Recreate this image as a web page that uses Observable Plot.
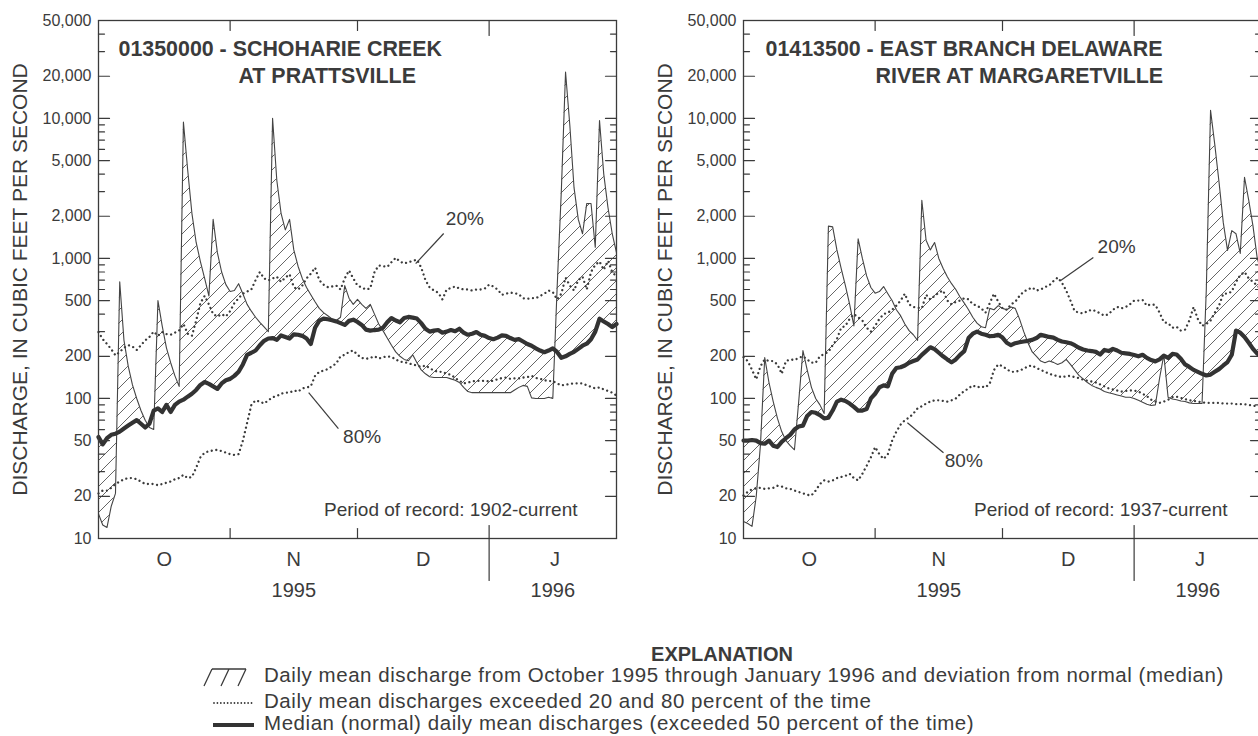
<!DOCTYPE html>
<html><head><meta charset="utf-8">
<script src="https://cdn.jsdelivr.net/npm/d3@7"></script>
<script src="https://cdn.jsdelivr.net/npm/@observablehq/plot@0.6"></script>
<style>
html,body{margin:0;padding:0;background:#fff;overflow:hidden;}
#wrap{position:relative;width:1258px;height:736px;overflow:hidden;font-family:"Liberation Sans",Arial,Helvetica,sans-serif;color:#3b3b3b;}
.panel{position:absolute;top:0;width:640px;height:620px;}
.panel svg{max-width:none !important;}
.lg{position:absolute;white-space:nowrap;font-size:20.5px;line-height:1;letter-spacing:0.55px;}
.sym{position:absolute;}
</style></head><body>
<div id="wrap">
  <div id="p1" class="panel" style="left:0px"></div>
  <div id="p2" class="panel" style="left:645px"></div>
  <div class="lg" style="left:602px;width:240px;text-align:center;top:644px;font-weight:bold;font-size:20px;letter-spacing:0;">EXPLANATION</div>
  <svg class="sym" style="left:200px;top:666px" width="60" height="22"><path d="M12,3 H46 M4,20 L12,3 M21,20 L29,3 M38,20 L46,3" stroke="#3b3b3b" stroke-width="1.3" fill="none"/></svg>
  <div class="lg" style="left:264px;top:665px;">Daily mean discharge from October 1995 through January 1996 and deviation from normal (median)</div>
  <svg class="sym" style="left:210px;top:697px" width="50" height="12"><line x1="4" y1="6" x2="44" y2="6" stroke="#3b3b3b" stroke-width="1.8" stroke-dasharray="0.01 3.4" stroke-linecap="round"/></svg>
  <div class="lg" style="left:264px;top:691px;">Daily mean discharges exceeded 20 and 80 percent of the time</div>
  <svg class="sym" style="left:210px;top:719px" width="50" height="12"><line x1="3" y1="6" x2="44" y2="6" stroke="#333" stroke-width="4.2"/></svg>
  <div class="lg" style="left:264px;top:713px;">Median (normal) daily mean discharges (exceeded 50 percent of the time)</div>
</div>
<script>
const FONT = '"Liberation Sans", Arial, Helvetica, sans-serif';
const INK = "#3b3b3b";

// ---- time axis (daily, 1 Oct 1995 .. 31 Jan 1996) ----
const startDate = new Date(Date.UTC(1995, 9, 1));
const dayDates = d3.range(123).map(i => d3.utcDay.offset(startDate, i));
const monthLetters = ["O", "N", "D", "J"];
const monthLabelDates = ["1995-10-16T12:00Z", "1995-11-16T00:00Z", "1995-12-16T12:00Z", "1996-01-16T12:00Z"].map(s => new Date(s));
const monthBoundaryDates = ["1995-11-01", "1995-12-01"].map(s => new Date(s));
const yearBoundaryDates = ["1996-01-01"].map(s => new Date(s));
const yearLabels = ["1995", "1996"];
const yearLabelDates = ["1995-11-16T00:00Z", "1996-01-16T00:00Z"].map(s => new Date(s));

// ---- discharge axis ----
const yMajorTicks = [10, 20, 50, 100, 200, 500, 1000, 2000, 5000, 10000, 20000, 50000];
const yAllTicks = [1, 10, 100, 1000, 10000].flatMap(p => [1,2,3,4,5,6,7,8,9].map(m => m * p)).filter(v => v >= 10 && v <= 50000);
const yMinorTicks = yAllTicks.filter(v => !yMajorTicks.includes(v));
const yTitle = "DISCHARGE, IN CUBIC FEET PER SECOND";

// ---- 01350000 Schoharie Creek at Prattsville ----
const schoharieTitle = ["01350000 - SCHOHARIE CREEK", "AT PRATTSVILLE"];
const schoharieRecord = "Period of record: 1902-current";
const schoharieQ = [
  15, 12.5, 12, 17, 21, 680, 260, 170, 125, 100,
  82, 70, 62, 60, 500, 330, 230, 180, 145, 122,
  9400, 4300, 2100, 1300, 950, 720, 540, 1900, 1100, 800,
  650, 580, 590, 660, 560, 470, 420, 380, 350, 325,
  300, 10000, 3600, 2100, 1600, 1900, 1150, 880, 720, 620,
  550, 490, 440, 410, 390, 370, 360, 380, 640, 520,
  470, 510, 470, 440, 470, 400, 340, 305, 270, 240,
  215, 200, 190, 186, 205, 180, 160, 150, 143, 141,
  141, 141, 141, 138, 135, 130, 120, 112, 110, 110,
  110, 110, 110, 110, 110, 110, 110, 110, 115, 120,
  124, 122, 101, 100, 100, 100, 102, 100, 600, 3000,
  21400, 9000, 3200, 1900, 1500, 2470, 2470, 1200, 9660, 4000,
  2300, 1500, 1100];
const schoharieMedian = [
  53, 47, 52, 55, 56, 58, 61, 64, 67, 70,
  66, 62, 66, 82, 85, 80, 90, 80, 90, 95,
  98, 103, 108, 115, 125, 131, 127, 122, 117, 128,
  135, 138, 145, 155, 175, 205, 212, 220, 240, 258,
  268, 270, 262, 282, 275, 268, 287, 285, 280, 268,
  245, 320, 360, 372, 368, 362, 355, 345, 335, 358,
  365, 352, 335, 310, 305, 308, 310, 320, 350, 375,
  360, 350, 375, 382, 378, 372, 345, 315, 300, 305,
  308, 295, 300, 308, 302, 315, 295, 285, 290, 298,
  285, 280, 270, 265, 272, 282, 280, 270, 262, 265,
  255, 245, 238, 228, 220, 214, 220, 228, 215, 195,
  200, 208, 215, 226, 238, 246, 265, 300, 371, 355,
  340, 323, 340];
const schoharieP20 = [
  298, 265, 245, 225, 203, 215, 230, 240, 235, 222,
  240, 260, 275, 300, 280, 298, 288, 285, 295, 306,
  340, 290, 280, 360, 480, 540, 470, 400, 385, 400,
  385, 420, 480, 520, 560, 580, 600, 700, 800, 720,
  697, 720, 740, 680, 730, 770, 624, 600, 640, 720,
  778, 860, 700, 650, 624, 630, 640, 600, 720, 820,
  720, 640, 620, 600, 610, 800, 890, 880, 870, 940,
  1010, 950, 920, 940, 960, 980, 860, 700, 620, 590,
  570, 510, 600, 615, 630, 610, 600, 600, 590, 600,
  600, 610, 650, 630, 600, 550, 560, 570, 565, 555,
  520, 515, 520, 520, 540, 560, 590, 575, 510, 560,
  730, 640, 590, 700, 740, 600, 800, 900, 950, 830,
  960, 800, 740];
const schoharieP80 = [
  21, 22, 22, 23, 24.5, 25.5, 26.5, 27, 27, 26.5,
  25.5, 24.5, 24.5, 24.5, 24, 24.5, 25, 25.5, 26.5, 27,
  28.5, 27, 27.5, 32, 38, 41, 42, 42.5, 43, 42,
  41, 40, 39.5, 40, 50, 67, 90, 97, 95, 92,
  97, 102, 104, 108, 110, 110, 114, 112, 118, 120,
  122, 145, 155, 158, 162, 170, 178, 200, 205, 215,
  220, 205, 195, 192, 195, 200, 193, 197, 200, 198,
  190, 183, 182, 178, 175, 172, 168, 172, 165, 158,
  155, 155, 150, 148, 140, 134, 128, 130, 132, 134,
  133, 134, 132, 134, 137, 140, 141, 138, 139, 139,
  141, 142, 145, 140, 138, 135, 133, 133, 128, 124,
  125, 127, 128, 128, 128, 124, 121, 118, 120, 116,
  113, 110, 105];
// annotation anchors: [day index, discharge]
const schoharieLeader20 = [[74.7, 918], [81.3, 1506]];
const schoharieLabel20 = [81.8, 1900];
const schoharieLeader80 = [[49.5, 110], [56.5, 61]];
const schoharieLabel80 = [57.6, 53.5];

// ---- 01413500 East Branch Delaware River at Margaretville ----
const delawareTitle = ["01413500 - EAST BRANCH DELAWARE", "RIVER AT MARGARETVILLE"];
const delawareRecord = "Period of record: 1937-current";
const delawareQ = [
  13.2, 12.8, 12.2, 20, 47, 196, 130, 95, 72, 58,
  50, 46, 43, 95, 220, 160, 120, 100, 90, 78,
  1700, 1680, 1150, 850, 640, 470, 330, 1380, 1000, 750,
  620, 565, 580, 630, 560, 500, 430, 390, 340, 305,
  285, 260, 2600, 1350, 1150, 1300, 1000, 850, 740, 660,
  600, 530, 480, 430, 380, 345, 325, 320, 440, 430,
  460, 440, 430, 450, 440, 370, 300, 250, 215, 200,
  185, 180, 185, 181, 175, 180, 190, 175, 160, 146,
  138, 130, 124, 120, 117, 112, 110, 108, 106, 104,
  102, 102, 100, 97, 94, 91, 89, 90, 140, 205,
  102, 99, 98, 96, 95, 93, 92, 92, 92, 600,
  11400, 6500, 3500, 1800, 1140, 1580, 1500, 1085, 3800, 2600,
  1700, 1000, 800];
const delawareMedian = [
  50, 50, 50.5, 50, 48, 47.5, 50, 46, 45, 49,
  52, 55, 60, 63, 64, 75, 80, 79, 76, 72,
  73, 82, 95, 98, 96, 92, 87, 82, 82, 84,
  100, 108, 120, 124, 122, 150, 165, 167, 172, 180,
  185, 190, 205, 218, 232, 225, 212, 200, 190, 181,
  190, 205, 218, 270, 290, 300, 290, 285, 278, 280,
  285, 272, 250, 240, 248, 252, 255, 258, 262, 270,
  285, 280, 275, 272, 262, 255, 252, 248, 240, 230,
  224, 220, 218, 215, 206, 222, 218, 226, 220, 212,
  210, 208, 204, 200, 205, 195, 188, 184, 190, 202,
  195, 208, 206, 192, 175, 168, 160, 155, 150, 146,
  148, 155, 162, 172, 182, 205, 305, 295, 275, 250,
  226, 209, 200];
const delawareP20 = [
  197, 185, 160, 137, 170, 190, 185, 185, 175, 150,
  185, 190, 188, 195, 200, 190, 180, 180, 200, 208,
  215, 240, 265, 320, 330, 370, 400, 380, 360, 320,
  300, 330, 370, 400, 410, 430, 460, 500, 560, 470,
  450, 445, 440, 550, 510, 540, 570, 590, 500, 470,
  490, 500, 520, 510, 470, 460, 440, 410, 480, 560,
  490, 440, 430, 470, 490, 540, 580, 600, 620, 590,
  600, 625, 640, 690, 730, 670, 590, 500, 420, 410,
  405, 420, 430, 420, 405, 390, 400, 430, 450, 440,
  450, 470, 500, 500, 505, 460, 470, 465, 410, 350,
  345, 320, 325, 305, 310, 360, 450, 370, 330, 340,
  360, 410, 460, 560, 560, 580, 680, 760, 800, 720,
  680, 640, 600];
const delawareP80 = [
  20.3, 21.5, 22.5, 22.8, 23, 22.6, 22.8, 23, 23.8, 23.5,
  22.8, 22.6, 22, 21.5, 21, 20.5, 20.3, 22, 24.5, 26,
  25.5, 26, 27, 27.5, 28, 29, 27, 26, 29, 33,
  38, 45, 40, 37, 40, 50, 58, 65, 70, 73,
  78, 85, 88, 92, 95, 97, 97, 96, 95, 97,
  100, 107, 113, 118, 124, 120, 122, 120, 128, 160,
  175, 170, 162, 155, 155, 158, 163, 170, 172, 165,
  160, 155, 150, 147, 144, 142, 144, 145, 142, 140,
  136, 134, 132, 130, 126, 122, 118, 116, 114, 112,
  113, 114, 114, 112, 108, 104, 98, 95, 93, 95,
  98, 102, 103, 101, 99, 97, 96, 95, 94, 93,
  93, 93, 93, 92, 92, 92, 91, 91, 91, 90,
  89, 88, 87];
const delawareLeader20 = [[74.7, 695], [82.4, 1014]];
const delawareLabel20 = [83.4, 1216];
const delawareLeader80 = [[38.6, 67], [47.1, 41]];
const delawareLabel80 = [47.4, 36];

// ---------------------------------------------------------------
const tickShape = {draw(context, l) { context.moveTo(0, 0); context.lineTo(0, -l); }};
const dayToDate = d => new Date(+startDate + d * 864e5);

function panel(target, id, cfg) {
  const rows = dayDates.map((date, i) => ({date, q: cfg.q[i], med: cfg.med[i], p20: cfg.p20[i], p80: cfg.p80[i]}));
  const x0 = () => dayDates[0], x1 = () => dayDates[dayDates.length - 1];
  const tickStyle = {anchor: "start", shape: tickShape, stroke: INK, strokeWidth: 1.2};
  const dotted = {stroke: INK, strokeWidth: 2.3, strokeDasharray: "0.01 4.6", strokeLinecap: "round"};
  const txt = {fill: INK, stroke: null};
  const svg = Plot.plot({
    width: 640, height: 620,
    marginLeft: 98, marginRight: 24, marginTop: 20, marginBottom: 82,
    style: {fontFamily: FONT, background: "transparent", overflow: "visible", color: INK},
    x: {type: "utc", domain: [dayDates[0], dayDates[dayDates.length - 1]], axis: null},
    y: {type: "log", domain: [10, 50000], axis: null},
    marks: [
      Plot.areaY(rows, {x: "date", y1: "med", y2: "q", fill: `url(#${id})`, curve: "linear"}),
      Plot.line(rows, {x: "date", y: "p20", ...dotted}),
      Plot.line(rows, {x: "date", y: "p80", ...dotted}),
      Plot.line(rows, {x: "date", y: "q", stroke: "#444", strokeWidth: 1.1}),
      Plot.line(rows, {x: "date", y: "med", stroke: "#333", strokeWidth: 4.2, strokeLinejoin: "round"}),
      Plot.frame({stroke: INK, strokeWidth: 1.3}),
      // y ticks, both sides, pointing inward
      Plot.vector(yMajorTicks, {x: x0, y: d => d, length: 11, rotate: 90, ...tickStyle}),
      Plot.vector(yMinorTicks, {x: x0, y: d => d, length: 6, rotate: 90, ...tickStyle}),
      Plot.vector(yMajorTicks, {x: x1, y: d => d, length: 11, rotate: -90, ...tickStyle}),
      Plot.vector(yMinorTicks, {x: x1, y: d => d, length: 6, rotate: -90, ...tickStyle}),
      // month ticks top and bottom
      Plot.vector(monthBoundaryDates, {x: d => d, y: () => 10, length: 10, rotate: 0, ...tickStyle}),
      Plot.vector(monthBoundaryDates, {x: d => d, y: () => 50000, length: 10, rotate: 180, ...tickStyle}),
      Plot.vector(yearBoundaryDates, {x: d => d, y: () => 10, length: 13, rotate: 0, ...tickStyle}),
      Plot.vector(yearBoundaryDates, {x: d => d, y: () => 10, length: 42, rotate: 180, ...tickStyle}),
      Plot.vector(yearBoundaryDates, {x: d => d, y: () => 50000, length: 15, rotate: 180, ...tickStyle}),
      // tick labels
      Plot.text(yMajorTicks, {x: x0, y: d => d, text: d => d3.format(",")(d), textAnchor: "end", lineAnchor: "middle", dx: -7, fontSize: 16, ...txt}),
      Plot.text(monthLetters, {x: (d, i) => monthLabelDates[i], frameAnchor: "bottom", lineAnchor: "middle", dy: 21, fontSize: 20, ...txt}),
      Plot.text(yearLabels, {x: (d, i) => yearLabelDates[i], frameAnchor: "bottom", lineAnchor: "middle", dy: 52, fontSize: 20, ...txt}),
      Plot.text([yTitle], {frameAnchor: "left", textAnchor: "middle", lineAnchor: "middle", dx: -78.5, rotate: -90, fontSize: 21, ...txt}),
      // station title
      Plot.text([cfg.title[0]], {frameAnchor: "top-left", dx: cfg.titleDx[0], dy: 35, lineAnchor: "bottom", textAnchor: "start", fontSize: 21.4, fontWeight: "bold", ...txt}),
      Plot.text([cfg.title[1]], {frameAnchor: "top-left", dx: cfg.titleDx[1], dy: 62, lineAnchor: "bottom", textAnchor: "start", fontSize: 21.4, fontWeight: "bold", ...txt}),
      Plot.text([cfg.record], {frameAnchor: "bottom-right", dx: cfg.recordDx, dy: -29, textAnchor: "end", lineAnchor: "middle", fontSize: 19, ...txt}),
      // percentile annotations
      Plot.link([cfg.leader20, cfg.leader80], {x1: d => dayToDate(d[0][0]), y1: d => d[0][1], x2: d => dayToDate(d[1][0]), y2: d => d[1][1], stroke: INK, strokeWidth: 1.2}),
      Plot.text(["20%", "80%"], {x: (d, i) => dayToDate([cfg.label20, cfg.label80][i][0]), y: (d, i) => [cfg.label20, cfg.label80][i][1], textAnchor: "start", lineAnchor: "middle", fontSize: 19, ...txt})
    ]
  });
  const defs = d3.select(svg).insert("defs", ":first-child");
  const pat = defs.append("pattern").attr("id", id).attr("patternUnits", "userSpaceOnUse").attr("width", 13).attr("height", 13);
  pat.append("path").attr("d", "M-2,2 L2,-2 M0,13 L13,0 M11,15 L15,11").attr("stroke", "#555").attr("stroke-width", 0.9).attr("fill", "none");
  document.getElementById(target).append(svg);
}

panel("p1", "hatchA", {
  q: schoharieQ, med: schoharieMedian, p20: schoharieP20, p80: schoharieP80,
  title: schoharieTitle, titleDx: [20, 140], record: schoharieRecord, recordDx: -39,
  leader20: schoharieLeader20, label20: schoharieLabel20, leader80: schoharieLeader80, label80: schoharieLabel80
});
panel("p2", "hatchB", {
  q: delawareQ, med: delawareMedian, p20: delawareP20, p80: delawareP80,
  title: delawareTitle, titleDx: [22, 132], record: delawareRecord, recordDx: -34,
  leader20: delawareLeader20, label20: delawareLabel20, leader80: delawareLeader80, label80: delawareLabel80
});
</script>
</body></html>
